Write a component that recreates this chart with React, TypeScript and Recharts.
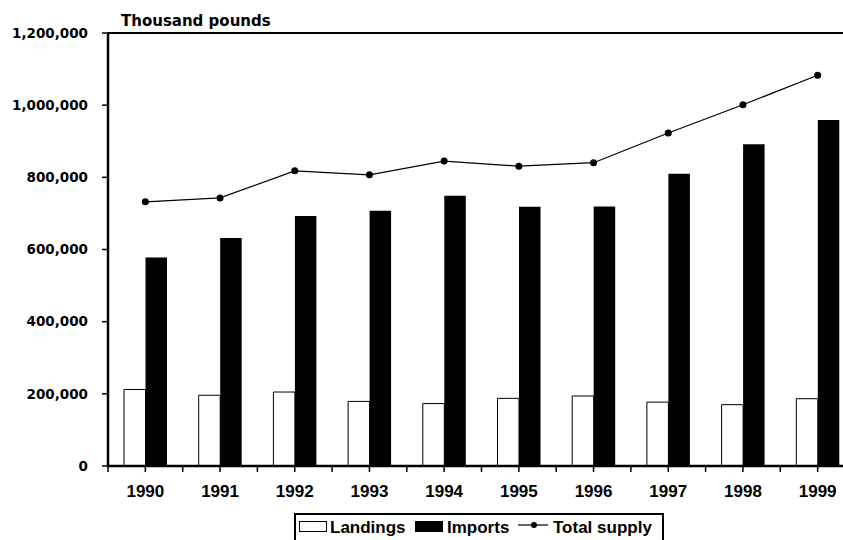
import React from 'react';
import { ComposedChart, Bar, Line, XAxis, YAxis, Legend, ReferenceLine, Label } from 'recharts';

const years = ['1990', '1991', '1992', '1993', '1994', '1995', '1996', '1997', '1998', '1999'];
const landings = [212000, 196000, 205000, 179000, 173000, 187500, 194000, 177000, 170000, 186500];
const imports = [578000, 632000, 693000, 707500, 749000, 718500, 719500, 810000, 892000, 959000];
const totalSupply = [732000, 743000, 818000, 807000, 845000, 831000, 840500, 923000, 1001000, 1083000];
const yTicks = [0, 200000, 400000, 600000, 800000, 1000000, 1200000];

const data = years.map((y, i) => ({
  year: y,
  landings: landings[i],
  imports: imports[i],
  total: totalSupply[i],
}));

const CHART_W = 870;
const CHART_H = 540;
const MARGIN = { top: 33, right: 15, bottom: 34, left: 0 };
const Y_AXIS_W = 108;
const BAND = (CHART_W - MARGIN.right - MARGIN.left - Y_AXIS_W) / years.length;
const TICK_SIZE = 6;
const TICK_MARGIN = 13;

const VERDANA = '"DejaVu Sans", Verdana, sans-serif';
const ARIAL = '"Liberation Sans", Arial, sans-serif';

const XTick = (props: any) => {
  const { x, y, payload, index } = props;
  const axisY = y - TICK_SIZE - TICK_MARGIN;
  const lines = [x - BAND / 2, x];
  if (index === years.length - 1) lines.push(x + BAND / 2);
  return (
    <g>
      {lines.map((lx, i) => (
        <line key={i} x1={lx} x2={lx} y1={axisY} y2={axisY + TICK_SIZE} stroke="#000" strokeWidth={1.5} />
      ))}
      <text x={x} y={y} dy="0.71em" textAnchor="middle" fontFamily={ARIAL} fontWeight="bold" fontSize={17} fill="#000">
        {payload.value}
      </text>
    </g>
  );
};

const legendText = { fontFamily: ARIAL, fontWeight: 'bold' as const, fontSize: 17, fill: '#000' };

const LegendContent = () => (
  <svg width={372} height={40} style={{ display: 'block', overflow: 'visible' }}>
    <rect x={1} y={1} width={368} height={40} fill="#fff" stroke="#000" strokeWidth={2} />
    <rect x={5.5} y={8.5} width={27} height={10} fill="#fff" stroke="#000" strokeWidth={1} />
    <text x={36} y={20} style={legendText}>Landings</text>
    <rect x={121} y={8} width={28} height={11} fill="#000" />
    <text x={153} y={20} style={legendText}>Imports</text>
    <line x1={224} x2={254} y1={12} y2={12} stroke="#000" strokeWidth={1.2} />
    <circle cx={240} cy={12} r={3} fill="#000" />
    <text x={259} y={20} style={legendText}>Total supply</text>
  </svg>
);

export default function App() {
  return (
    <div style={{ position: 'absolute', left: 0, top: 0, width: 843, height: 540, overflow: 'hidden', background: '#fff' }}>
      <ComposedChart width={CHART_W} height={CHART_H} data={data} margin={MARGIN} barGap={0}>
        <XAxis
          dataKey="year"
          height={40}
          axisLine={{ stroke: '#000', strokeWidth: 2.5 }}
          tickLine={false}
          tickSize={TICK_SIZE}
          tickMargin={TICK_MARGIN}
          tick={<XTick />}
          interval={0}
        />
        <YAxis
          width={Y_AXIS_W}
          domain={[0, 1200000]}
          ticks={yTicks}
          interval={0}
          tickFormatter={(v: number) => v.toLocaleString('en-US')}
          axisLine={{ stroke: '#000', strokeWidth: 2.5 }}
          tickLine={{ stroke: '#000', strokeWidth: 1.5 }}
          tickSize={TICK_SIZE}
          tickMargin={14}
          tick={{ fontFamily: VERDANA, fontWeight: 'bold', fontSize: 13.5, fill: '#000' }}
        >
          <Label
            content={() => (
              <text x={121} y={26} fontFamily={VERDANA} fontWeight="bold" fontSize={15} fill="#000">
                Thousand pounds
              </text>
            )}
          />
        </YAxis>
        <ReferenceLine y={1200000} stroke="#000" strokeWidth={2} />
        <Bar dataKey="landings" name="Landings" fill="#fff" stroke="#000" strokeWidth={1} barSize={21.5} isAnimationActive={false} />
        <Bar dataKey="imports" name="Imports" fill="#000" barSize={21.5} isAnimationActive={false} />
        <Line
          dataKey="total"
          name="Total supply"
          type="linear"
          stroke="#000"
          strokeWidth={1.2}
          dot={{ r: 3.5, fill: '#000', stroke: '#000', strokeWidth: 0 }}
          activeDot={false}
          isAnimationActive={false}
        />
        <Legend
          layout="horizontal"
          verticalAlign="middle"
          align="center"
          content={<LegendContent />}
          wrapperStyle={{ position: 'absolute', top: 513, left: 294, width: 372, height: 40 }}
        />
      </ComposedChart>
    </div>
  );
}
